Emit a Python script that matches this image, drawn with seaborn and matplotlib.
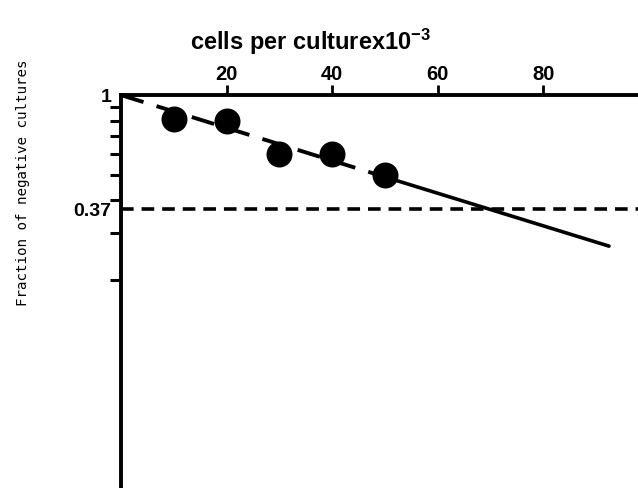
# Step 1 : Import the tools
import matplotlib
matplotlib.use("Agg")
import matplotlib.pyplot as plt
from matplotlib.ticker import FixedLocator, NullFormatter
import seaborn as sns

# Step 2: Data
cells = [10, 20, 30, 40, 50]                 # cells per culture x 10^-3
fraction = [0.81, 0.80, 0.60, 0.60, 0.50]    # fraction of negative cultures

# fitted line: dashed part through the points, solid part after
fit_x_dashed = [0, 50]
fit_y_dashed = [1.0, 0.49]
fit_x_solid = [50, 92.5]
fit_y_solid = [0.49, 0.268]

ref_level = 0.37
x_ticks = [20, 40, 60, 80]
y_labels = ["1", "0.37"]
y_major = [1.0, 0.37]
y_minor = [0.9, 0.8, 0.7, 0.6, 0.5, 0.4, 0.3, 0.2]

# Step 3: Style
sns.set_style("white")
plt.rcParams['font.family'] = ['Liberation Sans', 'DejaVu Sans']
plt.rcParams['mathtext.default'] = 'regular'
plt.rcParams['text.color'] = 'black'
plt.rcParams['xtick.color'] = 'black'
plt.rcParams['ytick.color'] = 'black'

fig = plt.figure(figsize=(6.38, 4.88), dpi=100)
ax = fig.add_axes([0.19, 0.0, 0.81, 0.805])

# Step 4: Draw
sns.lineplot(x=fit_x_dashed, y=fit_y_dashed, color="black", linewidth=2.8,
             linestyle=(0, (6, 3.5)), ax=ax)
sns.lineplot(x=fit_x_solid, y=fit_y_solid, color="black", linewidth=2.6, ax=ax)
ax.axhline(ref_level, color="black", linewidth=2.6, linestyle=(0, (3.5, 2.2)))
sns.scatterplot(x=cells, y=fraction, s=300, color="black", edgecolor="black",
                zorder=3, ax=ax)

ax.set_yscale("log")
ax.set_xlim(0, 98)
ax.set_ylim(0.0325, 1.0)

# axis on top, only top and left lines
ax.xaxis.tick_top()
for side in ["right", "bottom"]:
    ax.spines[side].set_visible(False)
for side in ["top", "left"]:
    ax.spines[side].set_linewidth(2.8)
    ax.spines[side].set_color("black")

ax.set_xticks(x_ticks)
ax.set_xticklabels([str(t) for t in x_ticks], fontsize=14.5, fontweight="bold")
ax.tick_params(axis="x", direction="out", length=7, width=2, pad=1)

ax.yaxis.set_major_locator(FixedLocator(y_major))
ax.set_yticklabels(y_labels, fontsize=14, fontweight="bold")
ax.yaxis.set_minor_locator(FixedLocator(y_minor))
ax.yaxis.set_minor_formatter(NullFormatter())
ax.tick_params(axis="y", which="major", length=0, pad=7)
ax.tick_params(axis="y", which="minor", direction="out", length=8, width=2.2, left=True)

ax.set_xlabel("")
ax.set_ylabel("")

# Add title and labels
fig.text(0.487, 0.915, r"cells per culturex10$^{-3}$", fontsize=17,
         fontweight="bold", ha="center", va="center")
fig.text(0.036, 0.625, "Fraction of negative cultures", rotation=90,
         family="DejaVu Sans Mono", fontsize=10.2, ha="center", va="center")

# Save the graph
plt.savefig("out.png", dpi=100)
